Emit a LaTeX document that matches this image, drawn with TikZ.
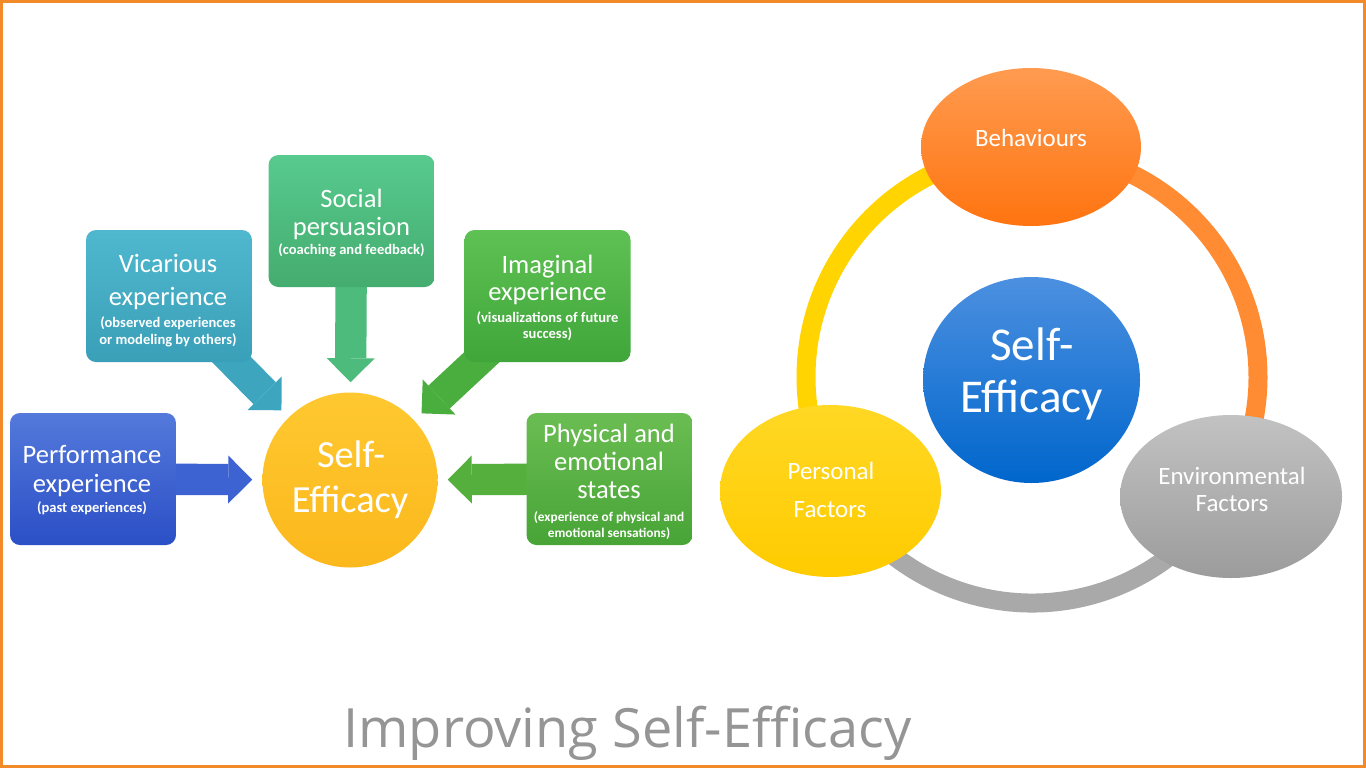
\documentclass[tikz,border=0pt]{standalone}
\usepackage{fontspec}
\setmainfont{Carlito}
\newfontfamily\titlef{Open Sans}
\usetikzlibrary{shapes.geometric,arrows.meta,backgrounds}
\definecolor{frameor}{HTML}{F28A2A}
\definecolor{perfT}{HTML}{5479DB}\definecolor{perfB}{HTML}{2B4FC6}\definecolor{perfA}{HTML}{3D62D2}
\definecolor{vicT}{HTML}{4FB8CE}\definecolor{vicB}{HTML}{3A9FB8}\definecolor{vicA}{HTML}{3DA6BE}
\definecolor{socT}{HTML}{58CA8E}\definecolor{socB}{HTML}{44AC6E}\definecolor{socA}{HTML}{4DBB7C}
\definecolor{imaT}{HTML}{5EC153}\definecolor{imaB}{HTML}{40A63A}\definecolor{imaA}{HTML}{4AAE3F}
\definecolor{phyT}{HTML}{6ABD52}\definecolor{phyB}{HTML}{48A436}\definecolor{phyA}{HTML}{55AF3D}
\definecolor{seyT}{HTML}{FFC830}\definecolor{seyB}{HTML}{FBB81C}
\definecolor{behT}{HTML}{FF9B50}\definecolor{behB}{HTML}{FF7410}
\definecolor{secT}{HTML}{4C90E0}\definecolor{secB}{HTML}{0066CC}
\definecolor{perT}{HTML}{FFD824}\definecolor{perB}{HTML}{FFCB00}
\definecolor{envT}{HTML}{C2C2C2}\definecolor{envB}{HTML}{9C9C9C}
\definecolor{ringY}{HTML}{FFD400}\definecolor{ringO}{HTML}{FF8C33}\definecolor{ringG}{HTML}{A9A9A9}
\definecolor{titlegray}{HTML}{959595}
\begin{document}
\begin{tikzpicture}[x=0.75pt,y=-0.75pt,
  box/.style={rectangle, rounded corners=7.5pt, minimum width=124.5pt, minimum height=99pt, inner sep=0pt, top color=#1T, bottom color=#1B},
  oval/.style={ellipse, inner sep=0pt, top color=#1T, bottom color=#1B},
  ttl/.style={anchor=base, text=white, inner sep=0pt, font=\fontsize{19.9}{24}\selectfont},
  sbt/.style={anchor=base, text=white, inner sep=0pt, font=\bfseries\fontsize{10.9}{13}\selectfont},
  sbtn/.style={anchor=base, text=white, inner sep=0pt, font=\bfseries\fontsize{10}{12}\selectfont},
  bigse/.style={anchor=base, text=white, inner sep=0pt, font=\fontsize{28.8}{34}\selectfont},
  hugese/.style={anchor=base, text=white, inner sep=0pt, font=\fontsize{35.3}{40}\selectfont},
  lbl/.style={anchor=base, text=white, inner sep=0pt, font=\fontsize{18.7}{22}\selectfont},
  barrow/.style={line width=23.5pt, draw=#1, -{Triangle[length=18pt,width=36pt,line width=0pt]}, shorten >=7.5pt},
  ringarc/.style={line width=14.25pt, draw=#1}
]
\useasboundingbox (0,0) rectangle (1366,768);

% ---------- left diagram ----------
\node[box=perf] (perf) at (93,479) {};
\node[box=vic] (vic) at (169,296) {};
\node[box=soc] (soc) at (351.5,221) {};
\node[box=ima] (ima) at (547.5,296) {};
\node[box=phy] (phy) at (609.5,479) {};
\node[circle, minimum size=131.25pt, inner sep=0pt, top color=seyT, bottom color=seyB] (se1) at (350,480) {};

\begin{pgfonlayer}{background}
  \fill[white] (0,0) rectangle (1366,768);
  \draw[barrow=perfA] (perf.center) -- (se1);
  \draw[barrow=vicA] (vic.center) -- (se1);
  \draw[barrow=socA] (soc.center) -- (se1);
  \draw[barrow=imaA] (ima.center) -- (se1);
  \draw[barrow=phyA] (phy.center) -- (se1);
\end{pgfonlayer}

\node[ttl] (perf1) at (92,463) {Performance};
\node[ttl] (perf2) at (92,492) {experience};
\node[sbt] (perf3) at (92,512) {(past experiences)};

\node[ttl] (vic1) at (168,272) {Vicarious};
\node[ttl] (vic2) at (168,305) {experience};
\node[sbt] (vic3) at (168,327) {(observed experiences};
\node[sbt] (vic4) at (168,344) {or modeling by others)};

\node[ttl] (soc1) at (351.5,207) {Social};
\node[ttl] (soc2) at (351.5,235) {persuasion};
\node[sbt] (soc3) at (351.5,254) {(coaching and feedback)};

\node[ttl] (ima1) at (547.5,273) {Imaginal};
\node[ttl] (ima2) at (547.5,300) {experience};
\node[sbt] (ima3) at (547.5,322) {(visualizations of future};
\node[sbt] (ima4) at (547.5,338) {success)};

\node[ttl] (phy1) at (609,442) {Physical and};
\node[ttl] (phy2) at (609,470) {emotional};
\node[ttl] (phy3) at (609,498) {states};
\node[sbtn] (phy4) at (609,521) {(experience of physical and};
\node[sbtn] (phy5) at (609,537) {emotional sensations)};

\node[bigse] (se1a) at (351,467) {Self-};
\node[bigse] (se1b) at (350,512) {Efficacy};

% ---------- right diagram ----------
\coordinate (ringc) at (1032,377);
\draw[ringarc=ringY] (ringc) ++(90:169.5pt) arc[start angle=90, end angle=210, radius=169.5pt];
\draw[ringarc=ringO] (ringc) ++(90:169.5pt) arc[start angle=90, end angle=-30, radius=169.5pt];
\draw[ringarc=ringG] (ringc) ++(210:169.5pt) arc[start angle=210, end angle=330, radius=169.5pt];

\node[oval=beh, minimum width=165pt, minimum height=118.5pt] (beh) at (1031,147) {};
\node[oval=sec, minimum width=162.75pt, minimum height=154.5pt] (sec) at (1031.5,380) {};
\node[oval=per, minimum width=165.75pt, minimum height=129pt] (pers) at (830.5,491) {};
\node[oval=env, minimum width=166.5pt, minimum height=122.25pt] (env) at (1231,496.5) {};

\node[lbl] (beht) at (1031,146) {Behaviours};
\node[hugese] (seca) at (1032,360) {Self-};
\node[hugese] (secb) at (1031.5,412) {Efficacy};
\node[lbl] (pers1) at (831,479) {Personal};
\node[lbl] (pers2) at (830,517) {Factors};
\node[lbl] (env1) at (1232,484) {Environmental};
\node[lbl] (env2) at (1232,511) {Factors};

% ---------- title and frame ----------
\node[anchor=base, inner sep=0pt, text=titlegray, font=\titlef\fontsize{40.6}{48}\selectfont] (title) at (627.5,747) {Improving Self-Efficacy};
\draw[frameor, line width=2.25pt] (1.5,1.5) rectangle (1364.5,766.5);
\end{tikzpicture}
\end{document}
